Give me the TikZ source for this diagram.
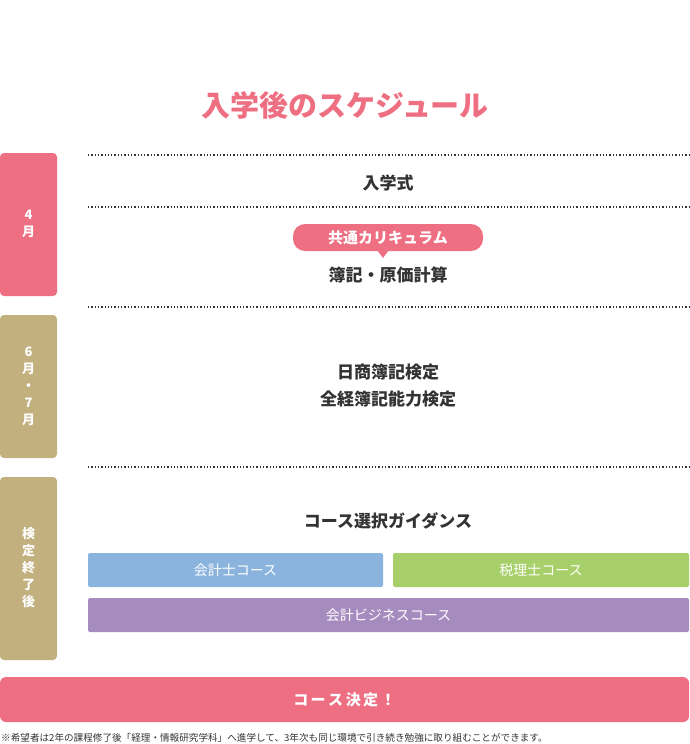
\documentclass[tikz,border=0pt]{standalone}
\usepackage{fontspec}
\setmainfont{Noto Sans CJK JP}
\usetikzlibrary{positioning}
\definecolor{pinkc}{HTML}{EE6E82}
\definecolor{tanc}{HTML}{C2B07E}
\definecolor{bluec}{HTML}{8AB4DE}
\definecolor{greenc}{HTML}{A8D06A}
\definecolor{purplec}{HTML}{A68BBE}
\definecolor{textc}{HTML}{333333}
\tikzset{
    tab/.style = {rounded corners=4pt, text=white, font=\bfseries\fontsize{13}{17}\selectfont, align=center},
    item/.style = {text=textc, font=\bfseries\fontsize{17}{27}\selectfont, align=center},
    course/.style = {rounded corners=2pt, text=white, font=\fontsize{14}{16}\selectfont},
    sep/.style = {dotted, line width=1.3pt, textc}
}
\begin{document}
\begin{tikzpicture}[x=1pt, y=-1pt]
\useasboundingbox (0,0) rectangle (690,744);
\node (title) [text=pinkc, font=\bfseries\fontsize{29}{32}\selectfont] at (345,105) {入学後のスケジュール};

% left tabs
\fill [pinkc, rounded corners=4pt] (0,153) rectangle (57,296);
\node (apr) [tab] at (28.5,224) {4\\月};
\fill [tanc, rounded corners=4pt] (0,315) rectangle (57,458);
\node (junjul) [tab] at (28.5,386) {6\\月\\・\\7\\月};
\fill [tanc, rounded corners=4pt] (0,477) rectangle (57,660);
\node (after) [tab] at (28.5,568) {検\\定\\終\\了\\後};

% separators
\foreach \y in {155,207,307,467}
    \draw [sep] (88,\y) -- (690,\y);

\node (entry) [item] at (388,183) {入学式};
\fill [pinkc, rounded corners=12pt] (293,224) rectangle (483,251);
\fill [pinkc] (377,250) -- (389,250) -- (383,258) -- cycle;
\node (common) [text=white, font=\bfseries\fontsize{15}{17}\selectfont] at (388,238) {共通カリキュラム};
\node (boki) [item] at (388,275) {簿記・原価計算};
\node (exams) [item] at (388,386) {日商簿記検定\\全経簿記能力検定};
\node (guide) [item] at (388,521) {コース選択ガイダンス};

\fill [bluec, rounded corners=2pt] (88,553) rectangle (383,587);
\node (cpa) [course] at (235.5,570) {会計士コース};
\fill [greenc, rounded corners=2pt] (393,553) rectangle (689,587);
\node (tax) [course] at (541,570) {税理士コース};
\fill [purplec, rounded corners=2pt] (88,598) rectangle (689,632);
\node (biz) [course] at (388.5,615) {会計ビジネスコース};

\fill [pinkc, rounded corners=6pt] (0,677) rectangle (689,722);
\node (decide) [text=white, font=\bfseries\fontsize{15}{17}\selectfont] at (344.5,699.5) {コ\,ー\,ス\,決\,定\,！};
\node (note) [anchor=west, text=textc, font=\fontsize{9.6}{11}\selectfont, inner sep=0pt] at (1,738) {※希望者は2年の課程修了後「経理・情報研究学科」へ進学して、3年次も同じ環境で引き続き勉強に取り組むことができます。};
\end{tikzpicture}
\end{document}
